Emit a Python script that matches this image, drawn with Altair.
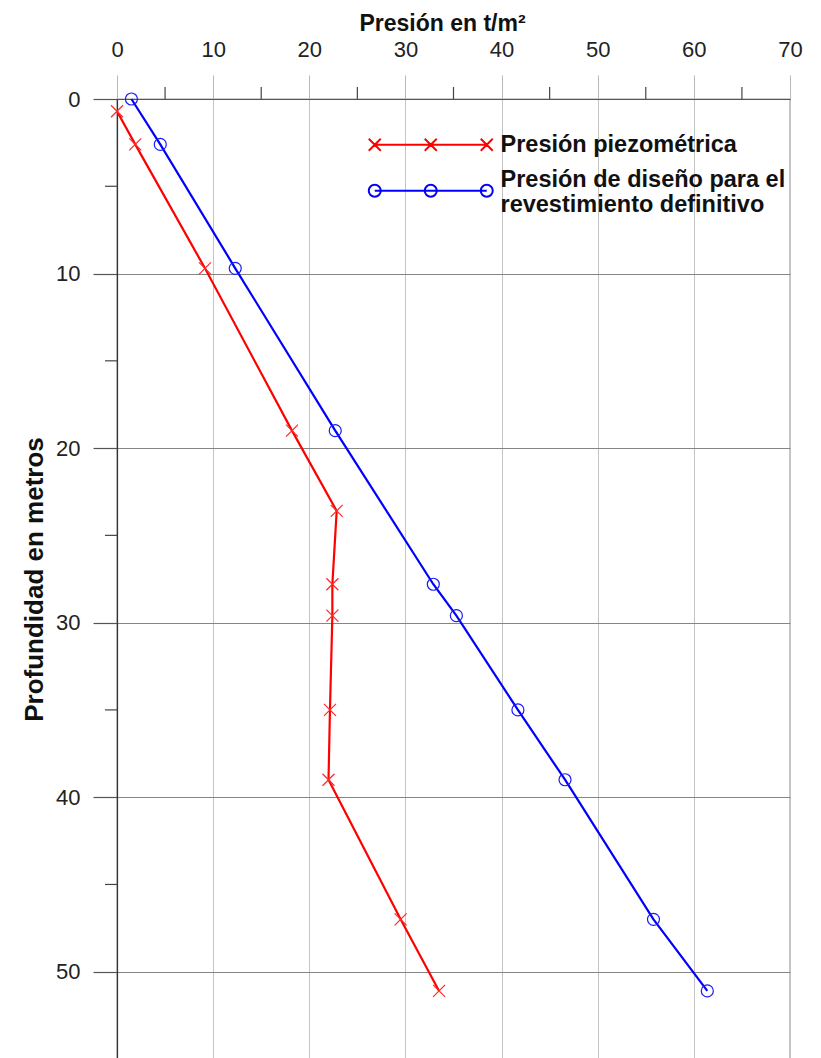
import altair as alt
import pandas as pd

# ---------------- data ----------------
serie_piezo = "Presión piezométrica"
serie_diseno = "Presión de diseño para el|revestimiento definitivo"
series = [serie_piezo, serie_diseno]
colores = ["#ff0000", "#0000ff"]

prof_piezo = [0.7, 2.6, 9.7, 19.0, 23.6, 27.8, 29.6, 35.0, 39.0, 47.0, 51.1]
pres_piezo = [0.0, 1.9, 9.15, 18.2, 22.85, 22.4, 22.4, 22.15, 22.0, 29.5, 33.5]

prof_diseno = [0.0, 2.6, 9.7, 19.0, 27.8, 29.6, 35.0, 39.0, 47.0, 51.1]
pres_diseno = [1.5, 4.5, 12.3, 22.7, 32.9, 35.3, 41.7, 46.6, 55.8, 61.4]

x_major = [0, 10, 20, 30, 40, 50, 60, 70]
x_minor = [5, 15, 25, 35, 45, 55, 65]
y_major = [0, 10, 20, 30, 40, 50]
y_minor = [5, 15, 25, 35, 45]

rows = []
for i, (d, p) in enumerate(zip(prof_piezo, pres_piezo)):
    rows.append({"serie": serie_piezo, "profundidad": d, "presion": p, "orden": i})
for i, (d, p) in enumerate(zip(prof_diseno, pres_diseno)):
    rows.append({"serie": serie_diseno, "profundidad": d, "presion": p, "orden": i})
df = pd.DataFrame(rows)

FONT = "Liberation Sans"

# ---------------- legend symbols (line + 3 markers) ----------------
def red_path():
    h = 0.857
    p = "M-1,0L15,0"
    for c in (-1, 7, 15):
        p += f"M{c-h},{-h}L{c+h},{h}M{c-h},{h}L{c+h},{-h}"
    return p

def blue_path():
    r = 0.857
    dy = 1.57  # drop the symbol to the middle of the two-line label
    p = f"M-1,{dy}L15,{dy}"
    for c in (-1, 7, 15):
        p += f"M{c+r},{dy}A{r},{r} 0 1,1 {c-r},{dy}A{r},{r} 0 1,1 {c+r},{dy}"
    return p

leg = alt.Legend(
    orient="none", legendX=253, legendY=34, title=None,
    labelExpr="split(datum.label, '|')",
)

x_scale = alt.Scale(domain=[0, 70], nice=False, zero=False)
y_scale = alt.Scale(domain=[0, 55], nice=False, zero=False, reverse=True)

x_axis = alt.Axis(
    orient="top", values=x_major, title="Presión en t/m²",
    titleFont=FONT, titleFontSize=23, titleFontWeight="bold", titleColor="#111",
    titlePadding=3, titleX=325,
    labelFont=FONT, labelFontSize=22, labelColor="#222", labelPadding=14,
    labelFlush=False, labelOverlap=False,
    tickSize=24, tickColor="#b8b8b8", tickWidth=1,
    grid=True, gridColor="#c4c4c4", gridWidth=1,
    domainColor="#555", domainWidth=1.2,
)
y_axis = alt.Axis(
    orient="left", values=y_major, title="Profundidad en metros",
    titleFont=FONT, titleFontSize=26, titleFontWeight="bold", titleColor="#111",
    titlePadding=8,
    labelFont=FONT, labelFontSize=22, labelColor="#222", labelPadding=13,
    labelFlush=False, labelOverlap=False,
    tickSize=24, tickColor="#555", tickWidth=1.2,
    grid=True, gridColor="#858585", gridWidth=1.2,
    domainColor="#333", domainWidth=1.2,
)

base = alt.Chart(df)

lines = base.mark_line(strokeWidth=2.2).encode(
    x=alt.X("presion:Q", scale=x_scale, axis=x_axis),
    y=alt.Y("profundidad:Q", scale=y_scale, axis=y_axis),
    color=alt.Color("serie:N", scale=alt.Scale(domain=series, range=colores), legend=leg),
    order=alt.Order("orden:Q"),
)

cross_shape = "M-1,-1L1,1M-1,1L1,-1"
crosses = base.transform_filter(alt.datum.serie == serie_piezo).mark_point(
    shape=cross_shape, size=144, filled=False, stroke="#ff2a2a", strokeWidth=1.2, opacity=1
).encode(x="presion:Q", y="profundidad:Q")

circles = base.transform_filter(alt.datum.serie == serie_diseno).mark_point(
    shape="circle", size=144, filled=False, stroke="#1a1aff", strokeWidth=1.2, opacity=1
).encode(x="presion:Q", y="profundidad:Q")

legend_layer = base.transform_filter("false").mark_point(filled=False, opacity=1).encode(
    x="presion:Q", y="profundidad:Q",
    color=alt.Color("serie:N", scale=alt.Scale(domain=series, range=colores), legend=leg),
    shape=alt.Shape("serie:N", scale=alt.Scale(domain=series, range=[red_path(), blue_path()]), legend=leg),
)

x_minor_ticks = alt.Chart(pd.DataFrame({"v": x_minor})).mark_rule(
    color="#444", strokeWidth=1.2
).encode(x=alt.X("v:Q"), y=alt.value(-12), y2=alt.value(0))

y_minor_ticks = alt.Chart(pd.DataFrame({"v": y_minor})).mark_rule(
    color="#444", strokeWidth=1.2
).encode(y=alt.Y("v:Q"), x=alt.value(-12), x2=alt.value(0))

chart = alt.layer(
    lines, crosses, circles, legend_layer, x_minor_ticks, y_minor_ticks
).properties(
    width=673, height=960,
    autosize=alt.AutoSizeParams(type="none"),
    padding={"left": 109, "top": 91, "right": 23, "bottom": 0},
).configure_view(
    stroke="#444", strokeWidth=1.2
).configure_legend(
    labelFont=FONT, labelFontSize=23.5, labelFontWeight="bold", labelColor="#111",
    labelLimit=0, padding=0, rowPadding=10, symbolSize=196, symbolStrokeWidth=2,
    labelOffset=107, symbolFillColor="transparent",
)

chart.save("out.html", embed_options={"renderer": "svg", "actions": False})
